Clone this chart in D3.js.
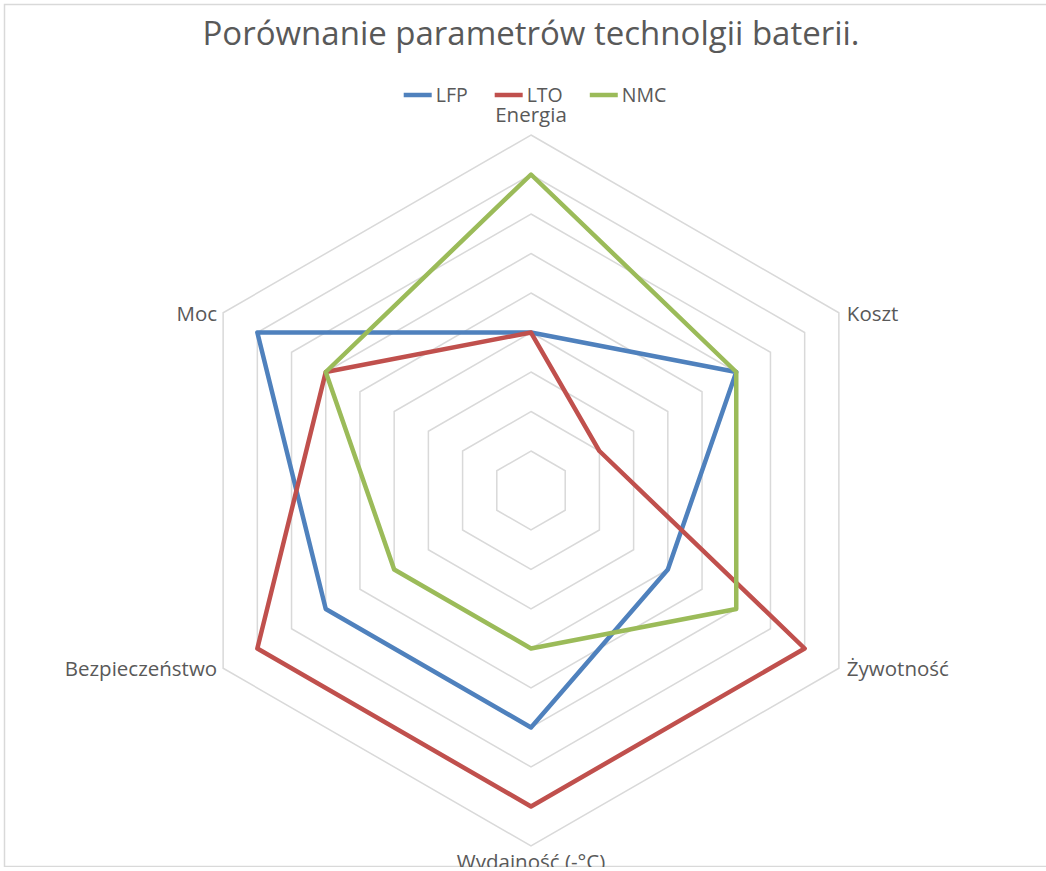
<!DOCTYPE html>
<html>
<head>
<meta charset="utf-8">
<script src="https://cdn.jsdelivr.net/npm/d3@7"></script>
<style>
    body { margin: 0; background: #fff; }
    text { font-family: "Open Sans", sans-serif; fill: #595959; }
</style>
</head>
<body>
<div id="chart"></div>
<script>
const axes = ["Energia", "Koszt", "Żywotność", "Wydajność (-°C)", "Bezpieczeństwo", "Moc"];
const seriesNames = ["LFP", "LTO", "NMC"];
const lfp = [4, 6, 4, 6, 6, 8];
const lto = [4, 2, 8, 8, 8, 6];
const nmc = [8, 6, 6, 4, 4, 6];
const ringTicks = [1, 2, 3, 4, 5, 6, 7, 8, 9];

const width = 1046;
const height = 871;
const cx = 531, cy = 490.5;
const radius = 355.5;

const colors = { "LFP": "#4F81BD", "LTO": "#C0504D", "NMC": "#9BBB59" };
const series = [
    { name: "LFP", values: lfp },
    { name: "LTO", values: lto },
    { name: "NMC", values: nmc }
];

const r = d3.scaleLinear().domain([0, 9]).range([0, radius]);
const angle = d3.scalePoint().domain(axes).range([0, 2 * Math.PI * 5 / 6]);

const svg = d3.select("#chart")
    .append("svg")
    .attr("width", width)
    .attr("height", height);

svg.append("clipPath").attr("id", "clip")
    .append("rect").attr("x", 0).attr("y", 0).attr("width", width).attr("height", 867);

const root = svg.append("g").attr("clip-path", "url(#clip)");

// chart border
root.append("rect")
    .attr("x", 4.5).attr("y", 4.5)
    .attr("width", 1100).attr("height", 862)
    .attr("fill", "none")
    .attr("stroke", "#d9d9d9")
    .attr("stroke-width", 1.5);

const g = root.append("g").attr("transform", `translate(${cx},${cy})`);

const radial = d3.lineRadial()
    .angle((d, i) => angle(axes[i]))
    .radius(d => r(d))
    .curve(d3.curveLinearClosed);

// grid rings
g.selectAll(".ring")
    .data(ringTicks)
    .enter()
    .append("path")
    .attr("class", "ring")
    .attr("d", t => radial(axes.map(() => t)))
    .attr("fill", "none")
    .attr("stroke", "#d9d9d9")
    .attr("stroke-width", 1.5);

// series lines
g.selectAll(".series")
    .data(series)
    .enter()
    .append("path")
    .attr("class", "series")
    .attr("d", d => radial(d.values))
    .attr("fill", "none")
    .attr("stroke", d => colors[d.name])
    .attr("stroke-width", 4.5)
    .attr("stroke-linejoin", "round");

// axis labels
const maxR = r(9);
g.selectAll(".axis-label")
    .data(axes)
    .enter()
    .append("text")
    .attr("class", "axis-label")
    .style("font-size", "20.5px")
    .each(function (d) {
        const a = angle(d);
        const x = maxR * Math.sin(a);
        const y = -maxR * Math.cos(a);
        const t = d3.select(this).text(d);
        if (Math.abs(x) < 1) {
            t.attr("text-anchor", "middle")
                .attr("x", x)
                .attr("y", y < 0 ? y - 13 : y + 23);
        } else if (x > 0) {
            t.attr("text-anchor", "start").attr("x", x + 8).attr("y", y + 8);
        } else {
            t.attr("text-anchor", "end").attr("x", x - 6).attr("y", y + 8);
        }
    });

// title
root.append("text")
    .attr("x", 531)
    .attr("y", 45)
    .attr("text-anchor", "middle")
    .style("font-size", "33px")
    .text("Porównanie parametrów technolgii baterii.");

// legend
const legend = root.append("g");
let lx = 0;
seriesNames.forEach(name => {
    const item = legend.append("g").attr("transform", `translate(${lx},0)`);
    item.append("line")
        .attr("x1", 0).attr("x2", 28)
        .attr("y1", 0).attr("y2", 0)
        .attr("stroke", colors[name])
        .attr("stroke-width", 4.5);
    const txt = item.append("text")
        .attr("x", 32)
        .attr("y", 7)
        .style("font-size", "19.5px")
        .text(name);
    lx += 32 + txt.node().getComputedTextLength() + 27;
});
const legendW = lx - 27;
legend.attr("transform", `translate(${535 - legendW / 2},95)`);
</script>
</body>
</html>
